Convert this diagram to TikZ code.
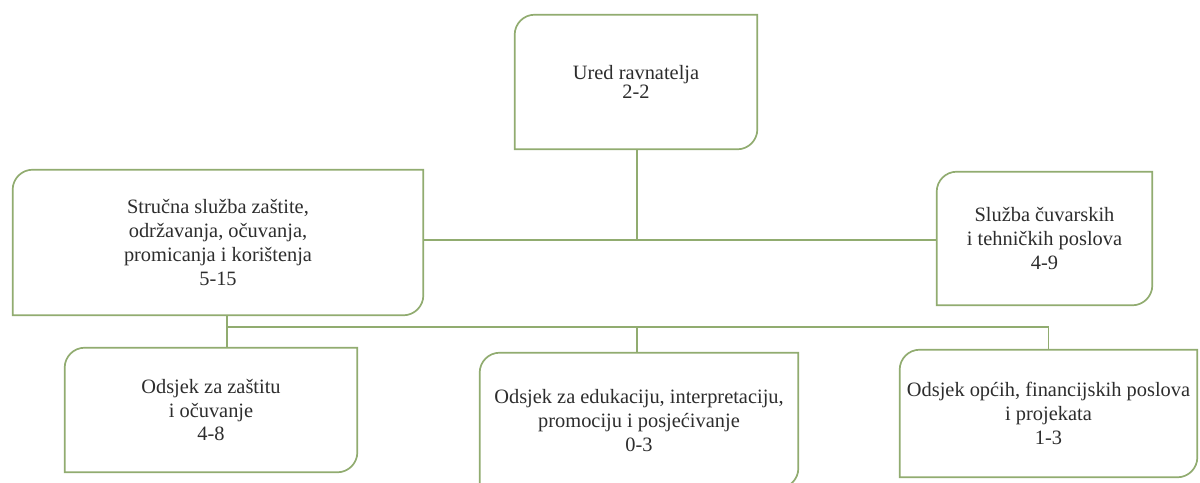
\documentclass[tikz,border=0pt]{standalone}
\usepackage{fontspec}
\setmainfont{Liberation Serif}
\usetikzlibrary{positioning}

\definecolor{olivebox}{RGB}{145,172,112}
\definecolor{inkgray}{RGB}{45,45,45}

% frame with rounded top-left and bottom-right corners
\newcommand{\diagframe}[1]{%
  \draw[frame] (#1.south west) -- ([yshift=-0.5cm]#1.north west)
    arc[start angle=180, end angle=90, radius=0.5cm] -- (#1.north east)
    -- ([yshift=0.5cm]#1.south east)
    arc[start angle=0, end angle=-90, radius=0.5cm] -- cycle;}

\begin{document}
\begin{tikzpicture}[
        x=0.025cm, y=-0.025cm,
        every node/.style={align=center, text=inkgray, font=\fontsize{14.5}{17}\selectfont, inner sep=0pt},
        unit/.style={minimum width=#1},
        frame/.style={draw=olivebox, line width=1.2pt},
        link/.style={draw=olivebox, line width=1.2pt}
    ]

    \path[use as bounding box, clip] (0,0) rectangle (1200,482);
    \fill[white] (0,0) rectangle (1200,482);

    % Root
    \node[unit=6.05cm, minimum height=3.35cm] (ured) at (636,82) {Ured ravnatelja\\[-3pt]2-2};

    % Level 1
    \node[unit=10.25cm, minimum height=3.625cm] (strucna) at (218,242.5)
        {Stručna služba zaštite,\\održavanja, očuvanja,\\promicanja i korištenja\\5-15};
    \node[unit=5.375cm, minimum height=3.325cm] (cuvar) at (1044.5,238.5)
        {Služba čuvarskih\\i tehničkih poslova\\4-9};

    % Level 2
    \node[unit=7.3cm, minimum height=3.1cm] (zastita) at (211,410) {Odsjek za zaštitu\\i očuvanje\\4-8};
    \node[unit=7.95cm, minimum height=3.375cm] (edukacija) at (639,420.5)
        {Odsjek za edukaciju, interpretaciju,\\promociju i posjećivanje\\0-3};
    \node[unit=7.425cm, minimum height=3.175cm] (opci) at (1048.5,413.5)
        {Odsjek općih, financijskih poslova\\i projekata\\1-3};

    \foreach \b in {ured, strucna, cuvar, zastita, edukacija, opci}
        \diagframe{\b};

    % Edges
    \coordinate (hub) at (637,240);
    \coordinate (fork) at (227,327);
    \draw[link] (ured.south -| hub) -- (hub);
    \draw[link] (strucna.east |- hub) -- (hub -| cuvar.west);
    \draw[link] (fork |- strucna.south) -- (fork |- zastita.north);
    \draw[link] (fork) -| (opci.north);
    \draw[link] (edukacija.north -| hub) -- (hub |- fork);

\end{tikzpicture}
\end{document}
